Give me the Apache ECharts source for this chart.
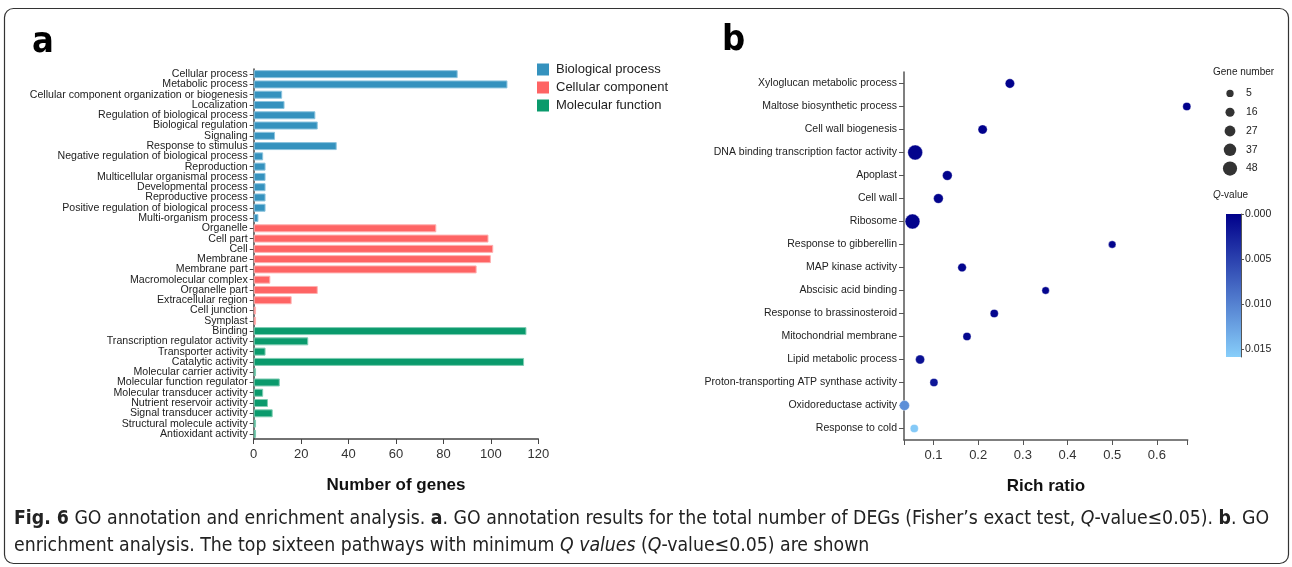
<!DOCTYPE html>
<html><head><meta charset="utf-8">
<script src="https://cdn.jsdelivr.net/npm/echarts@6/dist/echarts.min.js"></script>
<style>html,body{margin:0;padding:0;background:#fff}#c{width:1292px;height:567px}</style>
</head><body><div id="c"></div>
<script>
// ---- Panel a data ----
const bioCategories = ['Cellular process','Metabolic process','Cellular component organization or biogenesis','Localization','Regulation of biological process','Biological regulation','Signaling','Response to stimulus','Negative regulation of biological process','Reproduction','Multicellular organismal process','Developmental process','Reproductive process','Positive regulation of biological process','Multi-organism process'];
const bioValues = [86,107,12,13,26,27,9,35,4,5,5,5,5,5,2];
const cellCategories = ['Organelle','Cell part','Cell','Membrane','Membrane part','Macromolecular complex','Organelle part','Extracellular region','Cell junction','Symplast'];
const cellValues = [77,99,101,100,94,7,27,16,1,1];
const molCategories = ['Binding','Transcription regulator activity','Transporter activity','Catalytic activity','Molecular carrier activity','Molecular function regulator','Molecular transducer activity','Nutrient reservoir activity','Signal transducer activity','Structural molecule activity','Antioxidant activity'];
const molValues = [115,23,5,114,1,11,4,6,8,1,1];
const groupNames = ['Biological process','Cellular component','Molecular function'];
const geneTicks = [0,20,40,60,80,100,120];

// ---- Panel b data ----
const pathways = ['Xyloglucan metabolic process','Maltose biosynthetic process','Cell wall biogenesis','DNA binding transcription factor activity','Apoplast','Cell wall','Ribosome','Response to gibberellin','MAP kinase activity','Abscisic acid binding','Response to brassinosteroid','Mitochondrial membrane','Lipid metabolic process','Proton-transporting ATP synthase activity','Oxidoreductase activity','Response to cold'];
const richRatio = [0.271,0.667,0.210,0.059,0.131,0.111,0.053,0.500,0.164,0.351,0.236,0.175,0.070,0.101,0.035,0.057];
const qValue = [0.0001,0.0001,0.0001,0.0002,0.0002,0.0002,0.0002,0.0003,0.0004,0.0004,0.0005,0.0006,0.0012,0.0018,0.0110,0.0155];
const geneNumber = [18,10,17,52,20,20,52,6,13,6,10,10,16,10,22,10];
const richTicks = [0.1,0.2,0.3,0.4,0.5,0.6];
const sizeLegend = [5,16,27,37,48];
const qTicks = [0,0.005,0.010,0.015];

const colors = ['#3592be','#fe6464','#0a9a6c'];
const borders = ['#8cc4de','#ffb0b0','#7fcdb3'];
const FONT = "'Liberation Sans', Arial, sans-serif";
const NARROW = "'Liberation Sans Narrow', 'DejaVu Sans Condensed', sans-serif";

const barCategories = bioCategories.concat(cellCategories, molCategories);
const groups = [bioValues, cellValues, molValues];
let offset = 0;
const barSeries = groups.map((vals, g) => {
  const data = barCategories.map(() => null);
  vals.forEach((v, i) => { data[offset + i] = v; });
  offset += vals.length;
  return {
    name: groupNames[g], type: 'bar', stack: 'go', xAxisIndex: 0, yAxisIndex: 0,
    barWidth: 8, data: data,
    itemStyle: { color: colors[g], borderColor: borders[g], borderWidth: 1 }
  };
});

const sizeOf = n => 6.5 + 0.16 * n;
const rMin = 0.034, rMax = 0.669;
const qMax = 0.0159;

const chart = echarts.init(document.getElementById('c'), null, { renderer: 'canvas' });
chart.setOption({
  animation: false,
  textStyle: { fontFamily: FONT },
  legend: {
    data: groupNames.map(n => ({ name: n, itemStyle: { borderWidth: 0 } })),
    orient: 'vertical', left: 532, top: 58,
    itemWidth: 12, itemHeight: 12, itemGap: 5, icon: 'rect',
    textStyle: { fontSize: 13, color: '#222', fontFamily: FONT, padding: [0, 0, 0, 2] }
  },
  visualMap: {
    show: false, type: 'continuous', min: 0, max: qMax, dimension: 2, seriesIndex: 3,
    inRange: { color: ['#00008b', '#87cefa'] }
  },
  grid: [
    { left: 253.7, top: 69, width: 284.6, height: 370 },
    { left: 904, top: 72, width: 283.7, height: 368 },
    { left: 1222, top: 84, width: 16, height: 94 },
    { left: 1226, top: 214, width: 15, height: 143 }
  ],
  xAxis: [
    { gridIndex: 0, type: 'value', min: 0, max: 120, interval: 20,
      name: 'Number of genes', nameLocation: 'middle', nameGap: 38,
      nameTextStyle: { fontSize: 17, fontWeight: 'bold', color: '#111' },
      axisLine: { show: true, lineStyle: { color: '#444', width: 1.5 } },
      axisTick: { show: true, length: 5, lineStyle: { color: '#444' } },
      axisLabel: { fontSize: 13, color: '#333', margin: 9 },
      splitLine: { show: false } },
    { gridIndex: 1, type: 'value', min: rMin, max: rMax,
      name: 'Rich ratio', nameLocation: 'middle', nameGap: 38,
      nameTextStyle: { fontSize: 17, fontWeight: 'bold', color: '#111' },
      axisLine: { show: true, onZero: false, lineStyle: { color: '#555', width: 1.5 } },
      axisTick: { show: true, length: 5, lineStyle: { color: '#555' }, customValues: [rMin].concat(richTicks, [rMax]) },
      axisLabel: { fontSize: 13, color: '#333', margin: 9, customValues: richTicks, formatter: v => v.toFixed(1) },
      splitLine: { show: false } },
    { gridIndex: 2, type: 'category', data: [''], show: false },
    { gridIndex: 3, type: 'category', data: [''], show: false }
  ],
  yAxis: [
    { gridIndex: 0, type: 'category', data: barCategories, inverse: true,
      axisLine: { show: true, lineStyle: { color: '#444', width: 1.5 } },
      axisTick: { show: true, alignWithLabel: true, length: 4, lineStyle: { color: '#444' } },
      axisLabel: { interval: 0, fontSize: 10.6, color: '#222', margin: 6 } },
    { gridIndex: 1, type: 'category', data: pathways, inverse: true,
      axisLine: { show: true, onZero: false, lineStyle: { color: '#555', width: 1.5 } },
      axisTick: { show: true, alignWithLabel: true, length: 5, lineStyle: { color: '#555' } },
      axisLabel: { interval: 0, fontSize: 10.5, color: '#222', margin: 7 } },
    { gridIndex: 2, type: 'category', data: sizeLegend.map(String), inverse: true, position: 'right',
      axisLine: { show: false }, axisTick: { show: false },
      axisLabel: { fontSize: 10.5, color: '#222', margin: 8 } },
    { gridIndex: 3, type: 'value', min: 0, max: qMax, inverse: true, position: 'right',
      axisLine: { show: true, lineStyle: { color: '#555', width: 1 } },
      axisTick: { show: true, length: 3, inside: false, lineStyle: { color: '#555' }, customValues: qTicks },
      axisLabel: { fontSize: 10.5, color: '#222', margin: 4, customValues: qTicks, formatter: v => v.toFixed(3) },
      splitLine: { show: false } }
  ],
  series: barSeries.concat([
    { type: 'scatter', xAxisIndex: 1, yAxisIndex: 1,
      data: pathways.map((p, i) => [richRatio[i], i, qValue[i], geneNumber[i]]),
      symbolSize: d => sizeOf(d[3]),
      itemStyle: { opacity: 1, borderColor: 'rgba(255,255,255,0.6)', borderWidth: 0.6 } },
    { type: 'scatter', xAxisIndex: 2, yAxisIndex: 2,
      data: sizeLegend.map((n, i) => [0, i, n]),
      symbolSize: d => sizeOf(d[2]),
      itemStyle: { color: '#000' } },
    { type: 'bar', xAxisIndex: 3, yAxisIndex: 3, barWidth: 15, data: [qMax],
      itemStyle: { color: new echarts.graphic.LinearGradient(0, 0, 0, 1, [
        { offset: 0, color: '#00008b' }, { offset: 1, color: '#87cefa' }]) } }
  ]),
  graphic: [
    { type: 'rect', shape: { x: 4.5, y: 8.5, width: 1284, height: 555, r: 9 },
      style: { fill: 'none', stroke: '#333', lineWidth: 1.2 }, silent: true },
    { type: 'text', left: 32, top: 25, style: { text: 'a', font: "bold 36px " + NARROW, fill: '#000' } },
    { type: 'text', left: 722, top: 23, style: { text: 'b', font: "bold 36px " + NARROW, fill: '#000' } },
    { type: 'text', left: 1213, top: 67, style: { text: 'Gene number', font: "10px " + FONT, fill: '#222' } },
    { type: 'text', left: 1213, top: 190, style: { text: '{i|Q}-value', font: "10px " + FONT, fill: '#222',
        rich: { i: { fontStyle: 'italic', fontSize: 10, fontFamily: FONT, fill: '#222' } } } },
    { type: 'text', left: 14, top: 509, style: {
        text: '{b|Fig. 6} GO annotation and enrichment analysis. {b|a}. GO annotation results for the total number of DEGs (Fisher\u2019s exact test, {i|Q}-value\u22640.05). {b|b}. GO',
        font: "19.3px " + NARROW, fill: '#222',
        rich: { b: { fontWeight: 'bold', fontSize: 19.3, fontFamily: NARROW, fill: '#222' },
                i: { fontStyle: 'italic', fontSize: 19.3, fontFamily: NARROW, fill: '#222' } } } },
    { type: 'text', left: 14, top: 536, style: {
        text: 'enrichment analysis. The top sixteen pathways with minimum {i|Q values} ({i|Q}-value\u22640.05) are shown',
        font: "19.3px " + NARROW, fill: '#222',
        rich: { i: { fontStyle: 'italic', fontSize: 19.3, fontFamily: NARROW, fill: '#222' } } } }
  ]
});
</script></body></html>
